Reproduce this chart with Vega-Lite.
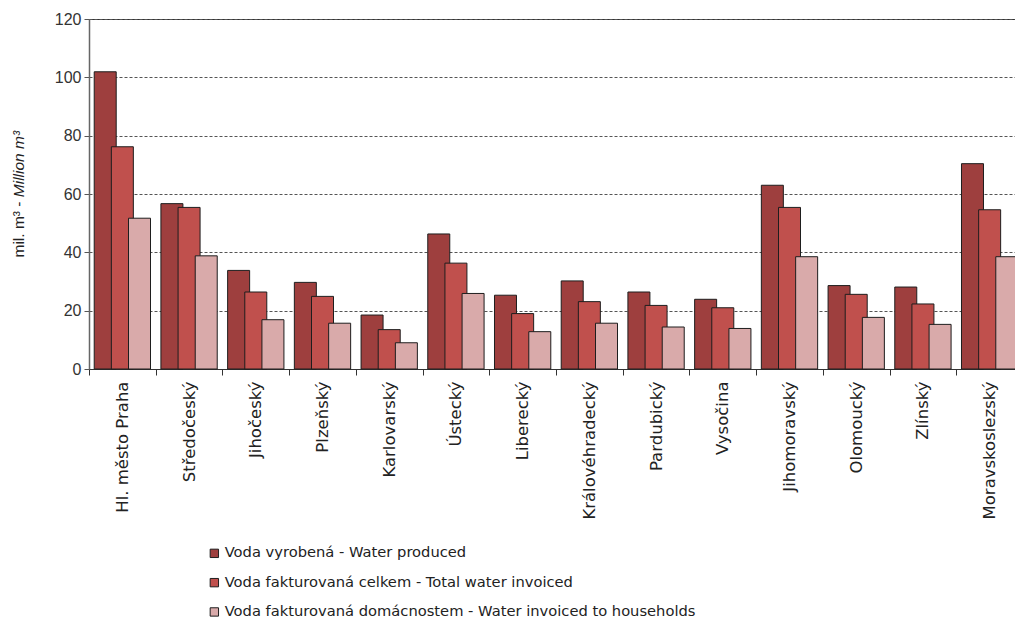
{
  "$schema": "https://vega.github.io/schema/vega-lite/v6.json",
  "width": 934,
  "height": 350,
  "autosize": {"type": "none"},
  "padding": {"left": 89, "top": 19, "right": -8, "bottom": 250},
  "config": {
    "view": {"stroke": "#333333", "strokeWidth": 1},
    "font": "Liberation Sans"
  },
  "data": {
    "values": [
      {"region": "Hl. město Praha", "series": "Voda vyrobená - Water produced", "value": 101.9},
      {"region": "Hl. město Praha", "series": "Voda fakturovaná celkem - Total water invoiced", "value": 76.2},
      {"region": "Hl. město Praha", "series": "Voda fakturovaná domácnostem - Water invoiced to households", "value": 51.7},
      {"region": "Středočeský", "series": "Voda vyrobená - Water produced", "value": 56.7},
      {"region": "Středočeský", "series": "Voda fakturovaná celkem - Total water invoiced", "value": 55.4},
      {"region": "Středočeský", "series": "Voda fakturovaná domácnostem - Water invoiced to households", "value": 38.8},
      {"region": "Jihočeský", "series": "Voda vyrobená - Water produced", "value": 33.8},
      {"region": "Jihočeský", "series": "Voda fakturovaná celkem - Total water invoiced", "value": 26.4},
      {"region": "Jihočeský", "series": "Voda fakturovaná domácnostem - Water invoiced to households", "value": 16.9},
      {"region": "Plzeňský", "series": "Voda vyrobená - Water produced", "value": 29.7},
      {"region": "Plzeňský", "series": "Voda fakturovaná celkem - Total water invoiced", "value": 24.9},
      {"region": "Plzeňský", "series": "Voda fakturovaná domácnostem - Water invoiced to households", "value": 15.7},
      {"region": "Karlovarský", "series": "Voda vyrobená - Water produced", "value": 18.5},
      {"region": "Karlovarský", "series": "Voda fakturovaná celkem - Total water invoiced", "value": 13.5},
      {"region": "Karlovarský", "series": "Voda fakturovaná domácnostem - Water invoiced to households", "value": 9.0},
      {"region": "Ústecký", "series": "Voda vyrobená - Water produced", "value": 46.3},
      {"region": "Ústecký", "series": "Voda fakturovaná celkem - Total water invoiced", "value": 36.3},
      {"region": "Ústecký", "series": "Voda fakturovaná domácnostem - Water invoiced to households", "value": 25.9},
      {"region": "Liberecký", "series": "Voda vyrobená - Water produced", "value": 25.3},
      {"region": "Liberecký", "series": "Voda fakturovaná celkem - Total water invoiced", "value": 19.0},
      {"region": "Liberecký", "series": "Voda fakturovaná domácnostem - Water invoiced to households", "value": 12.8},
      {"region": "Královéhradecký", "series": "Voda vyrobená - Water produced", "value": 30.2},
      {"region": "Královéhradecký", "series": "Voda fakturovaná celkem - Total water invoiced", "value": 23.1},
      {"region": "Královéhradecký", "series": "Voda fakturovaná domácnostem - Water invoiced to households", "value": 15.7},
      {"region": "Pardubický", "series": "Voda vyrobená - Water produced", "value": 26.4},
      {"region": "Pardubický", "series": "Voda fakturovaná celkem - Total water invoiced", "value": 21.8},
      {"region": "Pardubický", "series": "Voda fakturovaná domácnostem - Water invoiced to households", "value": 14.4},
      {"region": "Vysočina", "series": "Voda vyrobená - Water produced", "value": 23.9},
      {"region": "Vysočina", "series": "Voda fakturovaná celkem - Total water invoiced", "value": 21.0},
      {"region": "Vysočina", "series": "Voda fakturovaná domácnostem - Water invoiced to households", "value": 13.9},
      {"region": "Jihomoravský", "series": "Voda vyrobená - Water produced", "value": 63.0},
      {"region": "Jihomoravský", "series": "Voda fakturovaná celkem - Total water invoiced", "value": 55.4},
      {"region": "Jihomoravský", "series": "Voda fakturovaná domácnostem - Water invoiced to households", "value": 38.5},
      {"region": "Olomoucký", "series": "Voda vyrobená - Water produced", "value": 28.6},
      {"region": "Olomoucký", "series": "Voda fakturovaná celkem - Total water invoiced", "value": 25.6},
      {"region": "Olomoucký", "series": "Voda fakturovaná domácnostem - Water invoiced to households", "value": 17.7},
      {"region": "Zlínský", "series": "Voda vyrobená - Water produced", "value": 28.1},
      {"region": "Zlínský", "series": "Voda fakturovaná celkem - Total water invoiced", "value": 22.3},
      {"region": "Zlínský", "series": "Voda fakturovaná domácnostem - Water invoiced to households", "value": 15.3},
      {"region": "Moravskoslezský", "series": "Voda vyrobená - Water produced", "value": 70.4},
      {"region": "Moravskoslezský", "series": "Voda fakturovaná celkem - Total water invoiced", "value": 54.6},
      {"region": "Moravskoslezský", "series": "Voda fakturovaná domácnostem - Water invoiced to households", "value": 38.5}
    ]
  },
  "layer": [
    {
      "mark": {"type": "bar", "width": 22, "stroke": "#1e1e1e", "strokeWidth": 1},
      "encoding": {
        "x": {
          "field": "region",
          "type": "nominal",
          "sort": null,
          "scale": {"paddingInner": 0, "paddingOuter": 0},
          "axis": {
            "title": null,
            "tickBand": "extent",
            "ticks": true,
            "tickSize": 6,
            "tickColor": "#333333",
            "domainColor": "#333333",
            "labelAngle": -90,
            "labelAlign": "right",
            "labelBaseline": "middle",
            "labelFont": "DejaVu Sans",
            "labelFontSize": 16.5,
            "labelColor": "#222222",
            "labelPadding": 6,
            "labelLimit": 0,
            "grid": false
          }
        },
        "xOffset": {
          "field": "series",
          "sort": null,
          "scale": {"paddingInner": 0, "paddingOuter": 0.445}
        },
        "y": {
          "field": "value",
          "type": "quantitative",
          "stack": null,
          "scale": {"domain": [0, 120], "nice": false},
          "axis": {
            "orient": "left",
            "values": [0, 20, 40, 60, 80, 100, 120],
            "grid": true,
            "gridColor": "#555555",
            "gridDash": [3, 2],
            "gridWidth": 1,
            "domainColor": "#666666",
            "domainWidth": 1.5,
            "tickSize": 5,
            "tickColor": "#555555",
            "labelFontSize": 16,
            "labelColor": "#333333",
            "labelPadding": 3,
            "title": "mil. m³ -",
            "titleFont": "Liberation Sans",
            "titleAngle": -90,
            "titleX": -66,
            "titleY": 238,
            "titleAlign": "left",
            "titleBaseline": "alphabetic",
            "titleFontSize": 15.5,
            "titleFontWeight": "normal",
            "titleColor": "#222222"
          }
        },
        "color": {
          "field": "series",
          "type": "nominal",
          "sort": null,
          "scale": {"range": ["#9E3F3E", "#C0504D", "#D9AAAA"]},
          "legend": {
            "title": null,
            "orient": "none",
            "legendX": 118,
            "legendY": 527,
            "padding": 0,
            "symbolType": "square",
            "symbolSize": 70,
            "symbolStrokeColor": "#1e1e1e",
            "symbolStrokeWidth": 1,
            "labelFont": "DejaVu Sans",
            "labelFontSize": 14.7,
            "labelColor": "#222222",
            "labelOffset": 3,
            "labelLimit": 0,
            "rowPadding": 13.3
          }
        }
      }
    },
    {
      "mark": {"type": "point", "opacity": 0},
      "encoding": {
        "x": {"field": "region", "type": "nominal", "sort": null},
        "y": {
          "field": "value",
          "type": "quantitative",
          "axis": {
            "orient": "left",
            "labels": false,
            "ticks": false,
            "domain": false,
            "grid": false,
            "title": "Million m³",
            "titleFont": "Liberation Sans",
            "titleFontStyle": "italic",
            "titleAngle": -90,
            "titleX": -66,
            "titleY": 177.7,
            "titleAlign": "left",
            "titleBaseline": "alphabetic",
            "titleFontSize": 15.5,
            "titleFontWeight": "normal",
            "titleColor": "#222222"
          }
        }
      }
    }
  ],
  "resolve": {"axis": {"y": "independent"}}
}
